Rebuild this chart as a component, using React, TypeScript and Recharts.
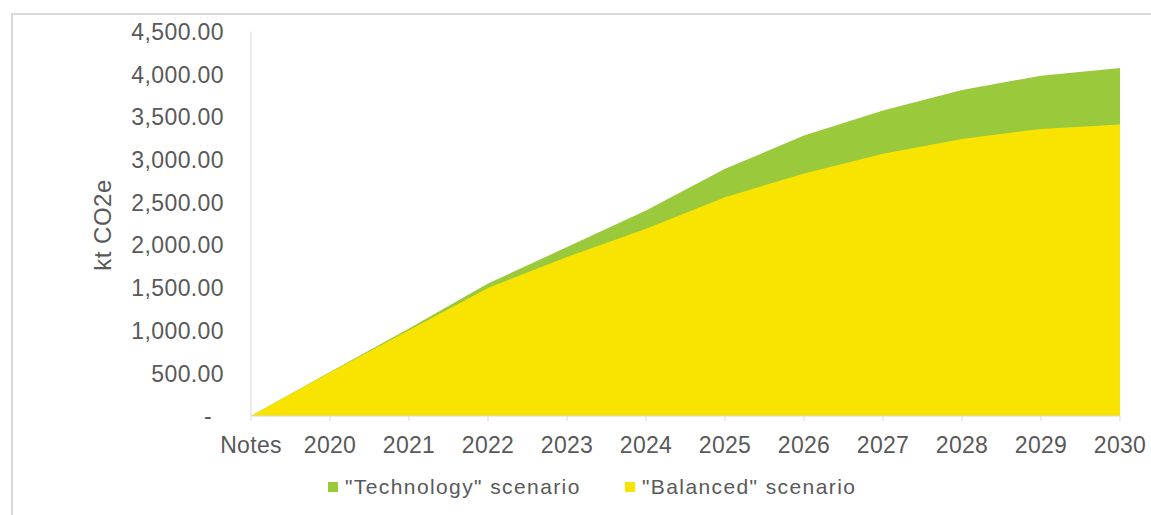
import React from "react";
import { AreaChart, Area, XAxis, YAxis } from "recharts";

const years = ["Notes", "2020", "2021", "2022", "2023", "2024", "2025", "2026", "2027", "2028", "2029", "2030"];
const technology = [0, 515, 1025, 1550, 1977, 2406, 2893, 3282, 3574, 3816, 3983, 4073];
const balanced = [0, 510, 1005, 1499, 1861, 2192, 2561, 2838, 3068, 3243, 3360, 3411];
const yTicks = [0, 500, 1000, 1500, 2000, 2500, 3000, 3500, 4000, 4500];

const GREEN = "#9ACA3C";
const YELLOW = "#F9E300";
const TEXT = "#595959";
const AXIS = "#D9D9D9";
const FONT = "'Liberation Sans', Arial, sans-serif";

const data = years.map((year, i) => ({
  year,
  technology: technology[i],
  balanced: balanced[i],
}));

const fmt = (v: number) =>
  v === 0
    ? "-"
    : v.toLocaleString("en-US", { minimumFractionDigits: 2, maximumFractionDigits: 2 });

const YTick = (props: any) => {
  const { y, payload } = props;
  return (
    <text
      x={payload.value === 0 ? 212 : 224}
      y={y}
      dy="0.36em"
      textAnchor="end"
      fill={TEXT}
      fontSize={23}
      letterSpacing={0.4}
      fontFamily={FONT}
    >
      {fmt(payload.value)}
    </text>
  );
};

const XTick = (props: any) => {
  const { x, y, payload } = props;
  return (
    <text
      x={x}
      y={y}
      dy="0.71em"
      textAnchor="middle"
      fill={TEXT}
      fontSize={23}
      letterSpacing={0.3}
      fontFamily={FONT}
    >
      {payload.value}
    </text>
  );
};

const YLabel = () => (
  <text
    x={102}
    y={225}
    transform="rotate(-90 102 225)"
    textAnchor="middle"
    dominantBaseline="central"
    fill={TEXT}
    fontSize={24}
    letterSpacing={0.5}
    fontFamily={FONT}
  >
    kt CO2e
  </text>
);

const legendItems = [
  { name: '"Technology" scenario', color: GREEN, left: 328 },
  { name: '"Balanced" scenario', color: YELLOW, left: 625 },
];

export default function App() {
  return (
    <div
      style={{
        position: "fixed",
        left: 0,
        top: 0,
        width: 1151,
        height: 515,
        overflow: "hidden",
        background: "#fff",
        fontFamily: FONT,
      }}
    >
      <div
        style={{
          position: "absolute",
          left: 11,
          top: 13,
          width: 1300,
          height: 700,
          borderTop: `2px solid ${AXIS}`,
          borderLeft: `2px solid ${AXIS}`,
        }}
      />
      <div style={{ position: "absolute", left: 0, top: 0 }}>
        <AreaChart
          width={1151}
          height={515}
          data={data}
          margin={{ top: 31.5, right: 31, left: 91, bottom: 69 }}
        >
          <XAxis
            dataKey="year"
            stroke={AXIS}
            tickSize={5}
            tickMargin={16}
            height={30}
            tick={<XTick />}
            interval={0}
          />
          <YAxis
            width={160}
            domain={[0, 4500]}
            ticks={yTicks}
            stroke={AXIS}
            tickLine={false}
            tickSize={0}
            tick={<YTick />}
            label={<YLabel />}
          />
          <Area
            type="linear"
            dataKey="technology"
            stroke="none"
            fill={GREEN}
            fillOpacity={1}
            isAnimationActive={false}
          />
          <Area
            type="linear"
            dataKey="balanced"
            stroke="none"
            fill={YELLOW}
            fillOpacity={1}
            isAnimationActive={false}
          />
        </AreaChart>
      </div>
      {legendItems.map((item) => (
        <div
          key={item.name}
          style={{
            position: "absolute",
            left: item.left,
            top: 474,
            height: 26,
            display: "flex",
            alignItems: "center",
            color: TEXT,
            fontSize: 21,
            letterSpacing: 1.4,
            whiteSpace: "nowrap",
          }}
        >
          <span
            style={{
              display: "inline-block",
              width: 10,
              height: 10,
              background: item.color,
              marginRight: 7,
            }}
          />
          {item.name}
        </div>
      ))}
    </div>
  );
}
